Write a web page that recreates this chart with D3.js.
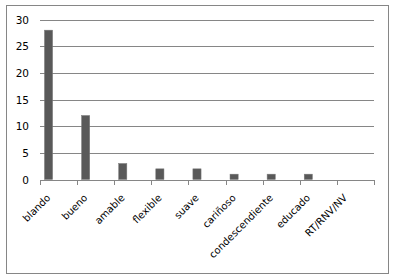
<!DOCTYPE html>
<html><head><meta charset="utf-8">
<script src="https://cdn.jsdelivr.net/npm/d3@7"></script>
<style>body{margin:0;background:#fff} text{font-family:"DejaVu Sans"}</style>
</head><body>
<script>
const categories = ["blando","bueno","amable","flexible","suave","cariñoso","condescendiente","educado","RT/RNV/NV"];
const values = [28,12,3,2,2,1,1,1,0];
const yTicks = [0,5,10,15,20,25,30];

const W=396,H=280;
const svg=d3.select("body").append("svg").attr("width",W).attr("height",H);
svg.append("rect").attr("x",6.5).attr("y",5.5).attr("width",382).attr("height",268)
  .attr("fill","#fff").attr("stroke","#868686").attr("stroke-width",1);

const x=d3.scaleBand().domain(categories).range([40,374]);
const y=d3.scaleLinear().domain([0,30]).range([179.5,19.5]);

// gridlines
svg.append("g").selectAll("line").data(yTicks.filter(d=>d>0)).join("line")
  .attr("x1",40).attr("x2",374).attr("y1",d=>Math.round(y(d))+0.5).attr("y2",d=>Math.round(y(d))+0.5)
  .attr("stroke","#868686").attr("stroke-width",1);

// y labels
svg.append("g").selectAll("text").data(yTicks).join("text")
  .attr("x",29).attr("y",d=>y(d)+4).attr("text-anchor","end")
  .style("font-size","10.5px").attr("fill","#000").text(d=>d);

// bars
const bw=x.bandwidth();
svg.append("g").selectAll("rect").data(values).join("rect")
  .attr("x",(d,i)=>x(categories[i])+bw*0.12)
  .attr("width",bw*0.22)
  .attr("y",d=>y(d)).attr("height",d=>y(0)-y(d))
  .attr("fill","#595959").attr("stroke","#7a7a7a").attr("stroke-width",0.5);

// axis
const ax=svg.append("g").attr("transform","translate(0,180)");
ax.call(d3.axisBottom(x).tickSize(0).tickFormat(""));
ax.select(".domain").attr("stroke","#868686").attr("d","M40,0.5H374");
const bounds=categories.map(c=>x(c)).concat([374]);
ax.selectAll("line.tk").data(bounds).join("line").attr("class","tk")
  .attr("x1",d=>Math.round(d)+0.5).attr("x2",d=>Math.round(d)+0.5).attr("y1",0).attr("y2",5)
  .attr("stroke","#868686");

// x labels
svg.append("g").selectAll("text").data(categories).join("text")
  .attr("transform",d=>`translate(${x(d)+bw/2-10},${196}) rotate(-45)`)
  .attr("text-anchor","end").attr("dy","0.35em")
  .style("font-size","10px").attr("fill","#000").text(d=>d);
</script>
</body></html>
